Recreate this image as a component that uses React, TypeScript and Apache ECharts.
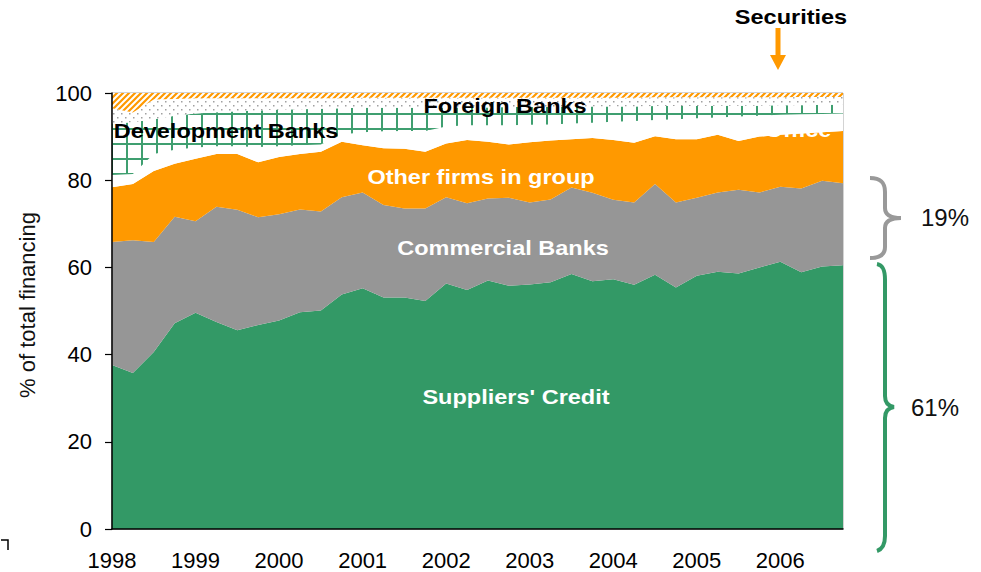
import React, { useEffect, useRef } from 'react';
import * as echarts from 'echarts';

const years = ['1998', '1999', '2000', '2001', '2002', '2003', '2004', '2005', '2006'];
const quarters = ['Q1', 'Q2', 'Q3', 'Q4'];
const categories: string[] = years.flatMap((y) => quarters.map((q) => `${y} ${q}`));

const suppliersCredit = [37.6, 35.8, 40.6, 47.2, 49.6, 47.5, 45.6, 46.8, 47.8, 49.7, 50.1, 53.8, 55.2, 53.1, 53.1, 52.3, 56.3, 54.8, 57.0, 55.8, 56.1, 56.6, 58.5, 56.8, 57.3, 56.0, 58.3, 55.4, 58.1, 59.0, 58.6, 60.0, 61.3, 58.9, 60.2, 60.5];
const commercialBanks = [28.2, 30.4, 25.2, 24.4, 21.0, 26.4, 27.6, 24.7, 24.4, 23.6, 22.7, 22.3, 22.0, 21.2, 20.4, 21.2, 19.8, 19.9, 18.8, 20.2, 18.8, 19.0, 19.8, 20.3, 18.2, 18.9, 20.8, 19.5, 17.9, 18.2, 19.2, 17.2, 17.2, 19.2, 19.7, 18.8];
const otherFirms = [12.6, 12.9, 16.3, 12.2, 14.3, 12.1, 12.8, 12.6, 13.1, 12.7, 13.7, 12.7, 10.8, 13.0, 13.7, 13.0, 12.3, 14.5, 13.0, 12.2, 13.8, 13.5, 11.1, 12.6, 13.7, 13.7, 11.0, 14.5, 13.4, 13.2, 11.2, 12.8, 11.9, 12.6, 11.1, 12.0];
const office = [2.8, 2.3, 3.9, 3.2, 2.6, 1.8, 1.8, 3.5, 2.5, 2.0, 1.7, 1.7, 3.0, 3.9, 4.1, 4.8, 3.9, 3.4, 3.8, 4.4, 4.0, 3.7, 3.6, 3.5, 4.2, 5.0, 3.7, 4.6, 4.8, 4.0, 5.6, 4.8, 4.6, 4.4, 4.2, 4.0];
const developmentBanks = [11.8, 11.9, 8.0, 7.8, 7.8, 7.8, 8.0, 8.4, 8.4, 8.3, 8.2, 6.0, 5.6, 5.4, 5.3, 5.3, 4.4, 4.1, 4.1, 4.2, 4.1, 4.0, 3.8, 3.7, 3.5, 3.3, 3.2, 3.0, 2.8, 2.7, 2.5, 2.3, 2.2, 2.1, 2.1, 2.0];
const foreignBanks = [3.5, 2.2, 4.5, 3.8, 3.5, 3.2, 3.0, 2.8, 2.6, 2.5, 2.4, 2.3, 2.3, 2.3, 2.3, 2.3, 2.2, 2.2, 2.2, 2.1, 2.1, 2.1, 2.1, 2.0, 2.0, 2.0, 2.0, 2.0, 2.0, 1.9, 1.9, 1.9, 1.8, 1.9, 1.8, 1.8];
const securities = [3.5, 4.5, 1.5, 1.4, 1.2, 1.2, 1.2, 1.2, 1.2, 1.2, 1.2, 1.2, 1.1, 1.1, 1.1, 1.1, 1.1, 1.1, 1.1, 1.1, 1.1, 1.1, 1.1, 1.1, 1.1, 1.1, 1.0, 1.0, 1.0, 1.0, 1.0, 1.0, 1.0, 0.9, 0.9, 0.9];

const yTicks = { min: 0, max: 100, interval: 20 };

const FONT = '"Liberation Sans", Arial, Helvetica, sans-serif';

function makeTile(w: number, h: number, draw: (ctx: CanvasRenderingContext2D) => void) {
  const c = document.createElement('canvas');
  c.width = w;
  c.height = h;
  const ctx = c.getContext('2d')!;
  ctx.fillStyle = '#ffffff';
  ctx.fillRect(0, 0, w, h);
  draw(ctx);
  return { image: c, repeat: 'repeat', imageWidth: w, imageHeight: h };
}

let shapesRegistered = false;
function registerShapes() {
  if (shapesRegistered) return;
  shapesRegistered = true;
  echarts.graphic.registerShape(
    'braceGray',
    echarts.graphic.extendPath(
      'M870,178 C881,178 885,183 885,192 L885,208 C885,214 890,218 901,218 C890,218 885,222 885,228 L885,247 C885,254 881,258 870,258',
      {}
    )
  );
  echarts.graphic.registerShape(
    'braceGreen',
    echarts.graphic.extendPath(
      'M877,264 C883,265 885,270 885,280 L885,396 C885,402 887,406 894,407 C887,408 885,412 885,418 L885,536 C885,544 883,549 877,551',
      {}
    )
  );
}

function boldLabel(text: string, x: number, y: number, fill: string) {
  return {
    type: 'text',
    x,
    y,
    scaleX: 1.12,
    z: 100,
    style: {
      text,
      fill,
      fontSize: 21,
      fontWeight: 'bold',
      fontFamily: FONT,
      align: 'center',
      verticalAlign: 'middle',
      textAlign: 'center',
      textVerticalAlign: 'middle',
    },
  };
}

function plainText(text: string, x: number, y: number, size: number, extra: any = {}) {
  return {
    type: 'text',
    x,
    y,
    z: 100,
    ...extra,
    style: {
      text,
      fill: '#111111',
      fontSize: size,
      fontFamily: FONT,
      align: 'center',
      verticalAlign: 'middle',
      textAlign: 'center',
      textVerticalAlign: 'middle',
    },
  };
}

export default function App() {
  const ref = useRef<HTMLDivElement>(null);

  useEffect(() => {
    if (!ref.current) return;
    registerShapes();
    const chart = echarts.init(ref.current, null, { renderer: 'svg' });

    const hatch = makeTile(6, 6, (ctx) => {
      ctx.strokeStyle = '#FF9900';
      ctx.lineWidth = 2.2;
      ctx.beginPath();
      ctx.moveTo(-1, 7);
      ctx.lineTo(7, -1);
      ctx.moveTo(-4, 4);
      ctx.lineTo(4, -4);
      ctx.moveTo(2, 10);
      ctx.lineTo(10, 2);
      ctx.stroke();
    });
    const dots = makeTile(8, 8, (ctx) => {
      ctx.fillStyle = '#a0a0a0';
      ctx.fillRect(1, 1, 1.5, 1.5);
      ctx.fillRect(5, 5, 1.5, 1.5);
    });
    const grid = makeTile(15, 15, (ctx) => {
      ctx.fillStyle = '#3f9f70';
      ctx.fillRect(6, 0, 2, 15);
      ctx.fillRect(0, 8, 15, 2);
    });

    const areaSeries = (name: string, data: number[], color: any) => ({
      name,
      type: 'line',
      stack: 'total',
      data,
      symbol: 'none',
      smooth: false,
      lineStyle: { width: 0, opacity: 0 },
      areaStyle: { color, opacity: 1 },
      emphasis: { disabled: true },
      silent: true,
    });

    chart.setOption({
      animation: false,
      backgroundColor: '#ffffff',
      grid: {
        left: 112,
        right: 138,
        top: 93,
        bottom: 43,
        show: true,
        borderColor: '#a8a8a8',
        borderWidth: 1,
        backgroundColor: 'transparent',
      },
      xAxis: {
        type: 'category',
        data: categories,
        boundaryGap: false,
        axisLine: { show: true, lineStyle: { color: '#000', width: 1.5 } },
        axisTick: { show: false },
        axisLabel: {
          interval: 3,
          formatter: (v: string) => v.split(' ')[0],
          color: '#000',
          fontSize: 22,
          fontFamily: FONT,
          margin: 20,
        },
        splitLine: { show: false },
        z: 10,
      },
      yAxis: {
        type: 'value',
        min: yTicks.min,
        max: yTicks.max,
        interval: yTicks.interval,
        axisLine: { show: true, lineStyle: { color: '#000', width: 1.5 } },
        axisTick: { show: true, length: 7, lineStyle: { color: '#000', width: 1.2 } },
        axisLabel: { color: '#000', fontSize: 22, fontFamily: FONT, margin: 20 },
        splitLine: { show: false },
        z: 10,
      },
      series: [
        areaSeries("Suppliers' Credit", suppliersCredit, '#339966'),
        areaSeries('Commercial Banks', commercialBanks, '#969696'),
        areaSeries('Other firms in group', otherFirms, '#FF9900'),
        areaSeries('Office', office, '#ffffff'),
        areaSeries('Development Banks', developmentBanks, grid),
        areaSeries('Foreign Banks', foreignBanks, dots),
        areaSeries('Securities', securities, hatch),
      ],
      graphic: [
        boldLabel('Securities', 791, 17, '#000000'),
        {
          type: 'line',
          z: 100,
          shape: { x1: 778, y1: 28, x2: 778, y2: 56 },
          style: { stroke: '#FF9900', lineWidth: 5 },
        },
        {
          type: 'polygon',
          z: 100,
          shape: { points: [[770, 55], [786, 55], [778, 70]] },
          style: { fill: '#FF9900' },
        },
        boldLabel('Foreign Banks', 505, 106, '#000000'),
        boldLabel('Development Banks', 226, 131, '#000000'),
        boldLabel('Office', 798, 130, '#ffffff'),
        boldLabel('Other firms in group', 481, 177, '#ffffff'),
        boldLabel('Commercial Banks', 503, 248, '#ffffff'),
        boldLabel("Suppliers' Credit", 516, 397, '#ffffff'),
        {
          type: 'braceGray',
          z: 100,
          style: { fill: 'none', stroke: '#999999', lineWidth: 4 },
        },
        {
          type: 'braceGreen',
          z: 100,
          style: { fill: 'none', stroke: '#339966', lineWidth: 4 },
        },
        plainText('19%', 945, 217, 24),
        plainText('61%', 935, 407, 24),
        plainText('% of total financing', 27, 305, 22, { rotation: Math.PI / 2 }),
        {
          type: 'polyline',
          z: 100,
          shape: { points: [[1, 540], [8, 540], [8, 550]] },
          style: { stroke: '#000', lineWidth: 1.5, fill: 'none' },
        },
      ],
    });

    return () => chart.dispose();
  }, []);

  return (
    <div
      ref={ref}
      style={{ position: 'fixed', left: 0, top: 0, width: 981, height: 572, background: '#fff' }}
    />
  );
}
